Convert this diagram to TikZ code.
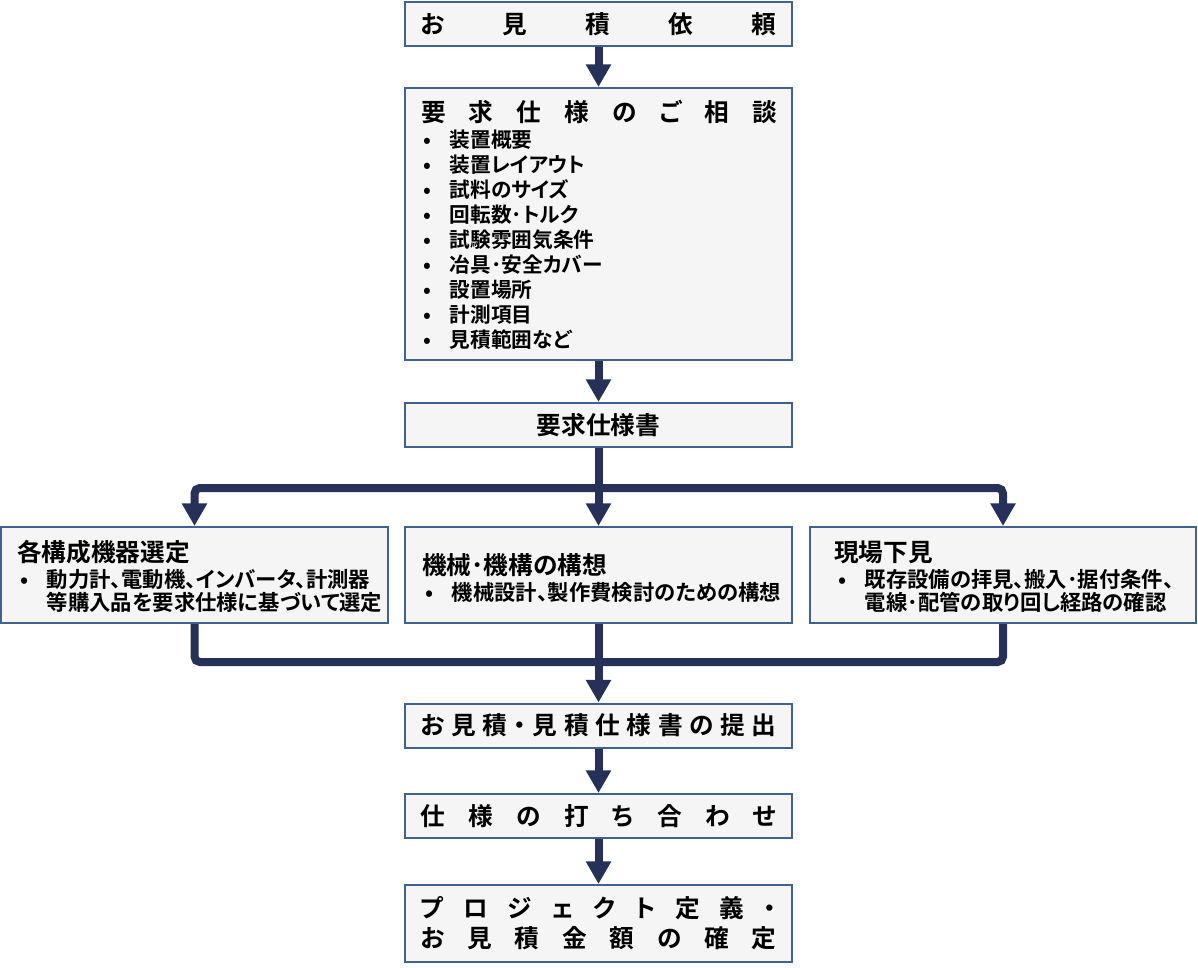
\documentclass[tikz,border=0pt]{standalone}
\usepackage{fontspec}
\setmainfont{Noto Sans CJK JP}[BoldFont={Noto Sans CJK JP Bold}, RawFeature=+palt]
\usetikzlibrary{arrows.meta}
\definecolor{boxline}{HTML}{41618F}
\definecolor{boxfill}{HTML}{F5F5F5}
\definecolor{flowcol}{HTML}{263159}
\newcommand\spread[1]{\makebox[267pt]{#1}}
\newcommand\bul{\makebox[20pt][l]{•}}
\newcommand\nobul{\hspace*{20pt}}
\tikzset{
  titletext/.style={inner sep=0pt, font=\bfseries\fontsize{18.5}{22.5}\selectfont},
  itemtext/.style={inner sep=0pt, align=left, anchor=west, font=\bfseries\fontsize{15.5}{18.75}\selectfont},
  sidetext/.style={inner sep=0pt, align=left, anchor=west, font=\bfseries\fontsize{16}{17}\selectfont},
  box/.style={draw=boxline, fill=boxfill, line width=1.5pt, minimum width=290pt, minimum height=33pt, inner sep=0pt, titletext},
  flow/.style={draw=flowcol, line width=6pt, -{Triangle[width=18pt,length=17pt]}},
  flowline/.style={draw=flowcol, line width=6pt, rounded corners=4pt},
}
\begin{document}
\begin{tikzpicture}[x=0.75pt, y=-0.75pt]
\path[use as bounding box, fill=white] (0,0) rectangle (1198,967);
\node[box] (request) at (598.5,24) {\spread{お\hfill 見\hfill 積\hfill 依\hfill 頼}};
\node[box, minimum height=204pt] (consult) at (598.5,224) {};
\node[titletext] (consulttitle) at (599,112) {\spread{要\hfill 求\hfill 仕\hfill 様\hfill の\hfill ご\hfill 相\hfill 談}};
\node[itemtext] (consultlist) at (423,240) {\bul 装置概要\\ \bul 装置レイアウト\\ \bul 試料のサイズ\\ \bul 回転数･トルク\\ \bul 試験雰囲気条件\\ \bul 冶具･安全カバー\\ \bul 設置場所\\ \bul 計測項目\\ \bul 見積範囲など};
\node[box] (spec) at (598.5,425) {要求仕様書};
\node[box, minimum height=72pt] (select) at (194.5,575) {};
\node[titletext, anchor=west] (selecttitle) at (17,552) {各構成機器選定};
\node[sidetext] (selectlist) at (20,591) {\bul 動力計、電動機、インバータ、計測器\\ \nobul 等購入品を要求仕様に基づいて選定};
\node[box, minimum height=72pt] (design) at (598.5,575) {};
\node[titletext, anchor=west] (designtitle) at (422,565) {機械･機構の構想};
\node[sidetext] (designlist) at (425,592) {\bul 機械設計、製作費検討のための構想};
\node[box, minimum height=72pt] (survey) at (1003,575) {};
\node[titletext, anchor=west] (surveytitle) at (834,552) {現場下見};
\node[sidetext] (surveylist) at (838,591) {\bul 既存設備の拝見、搬入･据付条件、\\ \nobul 電線･配管の取り回し経路の確認};
\node[box] (submit) at (598.5,725.5) {\spread{お\hfill 見\hfill 積\hfill ・\hfill 見\hfill 積\hfill 仕\hfill 様\hfill 書\hfill の\hfill 提\hfill 出}};
\node[box] (meet) at (598.5,816) {\spread{仕\hfill 様\hfill の\hfill 打\hfill ち\hfill 合\hfill わ\hfill せ}};
\node[box, minimum height=57.75pt, align=center] (fixed) at (598.5,923.5) {\spread{プ\hfill ロ\hfill ジ\hfill ェ\hfill ク\hfill ト\hfill 定\hfill 義\hfill ・}\\ \spread{お\hfill 見\hfill 積\hfill 金\hfill 額\hfill の\hfill 確\hfill 定}};
\coordinate (split) at (598.5,488);
\coordinate (merge) at (598.5,662);
\draw[flow] (request.south) -- (consult.north);
\draw[flow] (consult.south) -- (spec.north);
\draw[flow] (spec.south) -- (design.north);
\draw[flow, rounded corners=4pt] (split) -| (select.north);
\draw[flow, rounded corners=4pt] (split) -| (survey.north);
\draw[flowline] (select.south) |- (merge);
\draw[flowline] (survey.south) |- (merge);
\draw[flow] (design.south) -- (submit.north);
\draw[flow] (submit.south) -- (meet.north);
\draw[flow] (meet.south) -- (fixed.north);
\end{tikzpicture}
\end{document}
